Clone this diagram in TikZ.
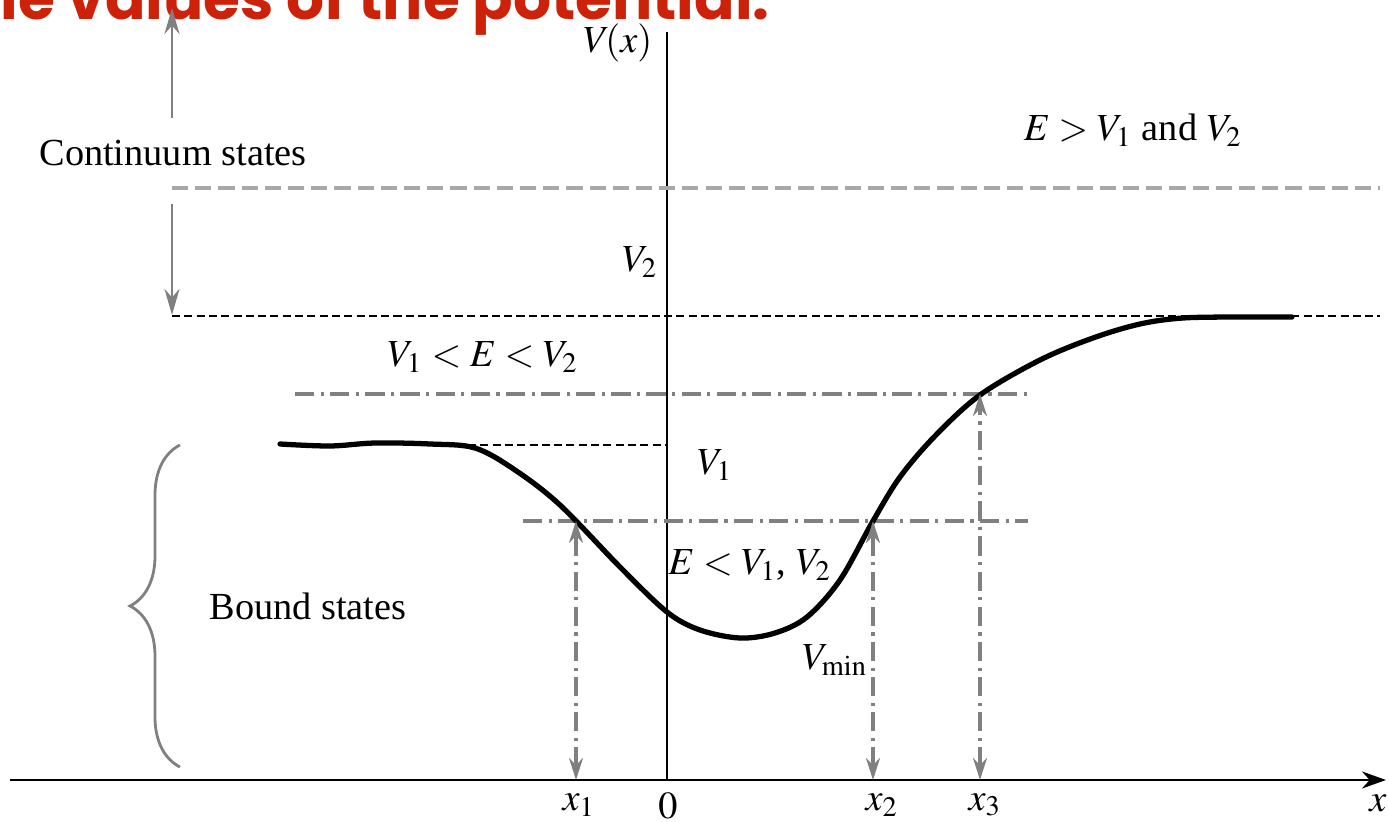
\documentclass[tikz,border=0pt]{standalone}
\usepackage{mathptmx}
\usepackage{fontspec}
\setmainfont{Liberation Serif}
\newfontfamily\slidefont{Poppins}
\usetikzlibrary{arrows.meta,decorations.pathreplacing}

\definecolor{slidered}{RGB}{204,34,10}
\definecolor{levelgray}{RGB}{168,168,168}
\definecolor{markgray}{RGB}{128,128,128}

\tikzset{
  contlevel/.style={levelgray, line width=0.9pt, dash pattern=on 4.6pt off 2pt},
  potlevel/.style={black, line width=0.75pt, dash pattern=on 2.3pt off 1.2pt},
  energy/.style={markgray, line width=0.9pt, dash pattern=on 5.5pt off 1.8pt on 0.9pt off 1.8pt},
  turning/.style={energy, {Stealth[length=2.2mm,width=1.4mm]}-{Stealth[length=2.2mm,width=1.4mm]}},
  rangearrow/.style={markgray, line width=0.8pt, -{Stealth[length=2.6mm,width=1.5mm]}},
}

\begin{document}
\begin{tikzpicture}[x=0.1mm, y=-0.1mm, font=\fontsize{10.9}{13}\selectfont]
\useasboundingbox (0,0) rectangle (1389,822);

% slide title (cut off at the top)
\node[anchor=base east, text=slidered, font=\slidefont\bfseries\fontsize{17}{17}\selectfont]
  (slidetitle) at (782,19) {le values of the potential.};

% Axes
\coordinate (xstart) at (10,780);
\coordinate (xend) at (1386,780);
\coordinate (origin) at (667,780);
\coordinate (ytop) at (667,32);
\draw[line width=0.85pt, -{Stealth[length=2.4mm,width=1.7mm]}] (xstart) -- (xend);
\draw[line width=0.85pt] (origin) -- (ytop);
\node[anchor=east, inner sep=2pt] (vlabel) at (660,43) {$V\!(x)$};

% levels
\coordinate (contL) at (172,188);
\coordinate (contR) at (1380,188);
\coordinate (vtwoL) at (172,316);
\coordinate (vtwoR) at (1380,316);
\coordinate (voneL) at (468,445);
\coordinate (voneR) at (667,445);
\draw[contlevel] (contL) -- (contR);
\draw[potlevel] (vtwoL) -- (vtwoR);
\draw[potlevel] (voneL) -- (voneR);

% energies
\coordinate (emidL) at (295,394);
\coordinate (emidR) at (1030,394);
\coordinate (elowL) at (523,521);
\coordinate (elowR) at (1028,521);
\draw[energy] (emidL) -- (emidR);
\draw[energy] (elowL) -- (elowR);

% the potential
\draw[line width=1.5pt, line cap=round] plot[smooth, tension=0.55] coordinates {
  (280,444) (330,446) (375,443) (430,444) (475,448) (515,470) (560,505)
  (620,567) (667,612) (700,630) (740,638) (775,633) (807,617) (840,580)
  (873,521) (900,477) (935,436) (980,395) (1040,360) (1093,338) (1140,324)
  (1183,318) (1240,317) (1292,317)};

% turning points
\foreach \n/\xx/\yy in {one/576/521, two/873/521, three/980/394} {
  \coordinate (tp\n) at (\xx,\yy);
  \coordinate (ax\n) at (\xx,780);
  \draw[turning] (ax\n) -- (tp\n);
}

% continuum / bound ranges
\coordinate (upfrom) at (172,118);
\coordinate (upto) at (172,8);
\coordinate (downfrom) at (172,204);
\coordinate (downto) at (172,315);
\draw[rangearrow] (upfrom) -- (upto);
\draw[rangearrow] (downfrom) -- (downto);
\draw[markgray, line width=0.8pt, decorate, decoration={brace, amplitude=5mm}]
  (180,767) -- (180,445);

% labels
\node (continuum) at (173,153) {Continuum states};
\node (bound) at (308,606) {Bound states};
\node (eabove) at (1133,130) {$E > V_1$ and $V_2$};
\node (vtwo) at (640,262) {$V_2$};
\node (emid) at (483,357) {$V_1 < E < V_2$};
\node (vone) at (715,465) {$V_1$};
\node (elow) at (750,565) {$E < V_1$, $V_2$};
\node (vmin) at (835,660) {$V_{\min}$};

% x-axis labels
\node (xone) at (579,805) {$x_1$};
\node (zero) at (668,806) {$0$};
\node (xtwo) at (882,805) {$x_2$};
\node (xthree) at (985,805) {$x_3$};
\node (xlab) at (1378,803) {$x$};

\end{tikzpicture}
\end{document}
